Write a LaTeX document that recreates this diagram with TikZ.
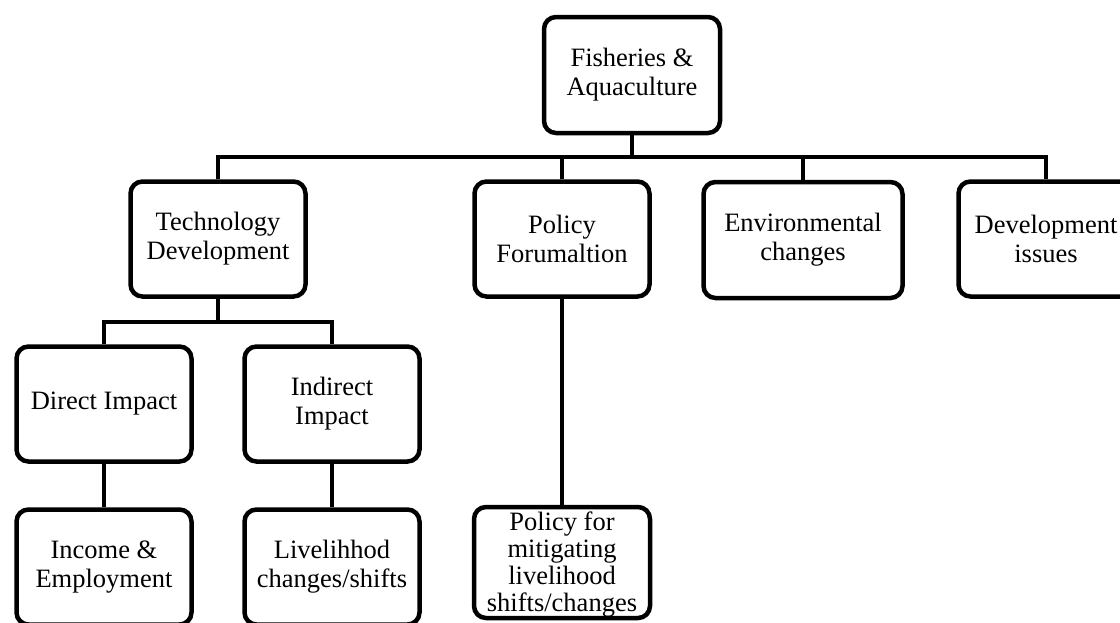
\documentclass[tikz,border=0pt]{standalone}
\usepackage{fontspec}
\setmainfont{Liberation Serif}
\begin{document}
\begin{tikzpicture}[x=1pt,y=-1pt,
  box/.style={draw=black,line width=4.5pt,rounded corners=12pt,fill=white,
    minimum width=175pt,minimum height=115pt,align=center,inner sep=2pt,
    font=\fontsize{26.5}{29}\selectfont},
  link/.style={draw=black,line width=4.5pt}]
\clip (0,0) rectangle (1120,622);
\fill[white] (0,0) rectangle (1120,622);

% top level
\node[box,minimum width=176pt,minimum height=116pt] (fa) at (632,75) {Fisheries \&\\Aquaculture};

% second level
\node[box] (tech) at (218,239) {Technology\\Development};
\node[box] (pol) at (562,239) {Policy\\Forumaltion};
\node[box,minimum width=199pt,minimum height=116pt] (env) at (803,240) {Environmental\\changes};
\node[box] (dev) at (1046,239) {Development\\issues};

% third level
\node[box] (dir) at (104,404) {Direct Impact};
\node[box] (ind) at (332,404) {Indirect\\Impact};

% fourth level
\node[box] (inc) at (104,567) {Income \&\\Employment};
\node[box] (liv) at (332,567) {Livelihhod\\changes/shifts};
\node[box,minimum width=176pt,minimum height=111pt] (pmit) at (562,562.5) {};
\node[align=center,inner sep=0pt,font=\fontsize{26.5}{27}\selectfont]
  (pmittext) at (562,564.5) {Policy for\\mitigating\\livelihood\\shifts/changes};

% tree connectors
\coordinate (b1) at (632,157);
\coordinate (b2) at (218,322);
\draw[link] (fa.south) -- (b1);
\draw[link] (tech.north) |- (b1) -| (dev.north);
\draw[link] (pol.north) -- (pol.north |- b1);
\draw[link] (env.north) -- (env.north |- b1);
\draw[link] (tech.south) -- (b2);
\draw[link] (dir.north) |- (b2) -| (ind.north);
\draw[link] (dir.south) -- (inc.north);
\draw[link] (ind.south) -- (liv.north);
\draw[link] (pol.south) -- (pmit.north);
\end{tikzpicture}
\end{document}
